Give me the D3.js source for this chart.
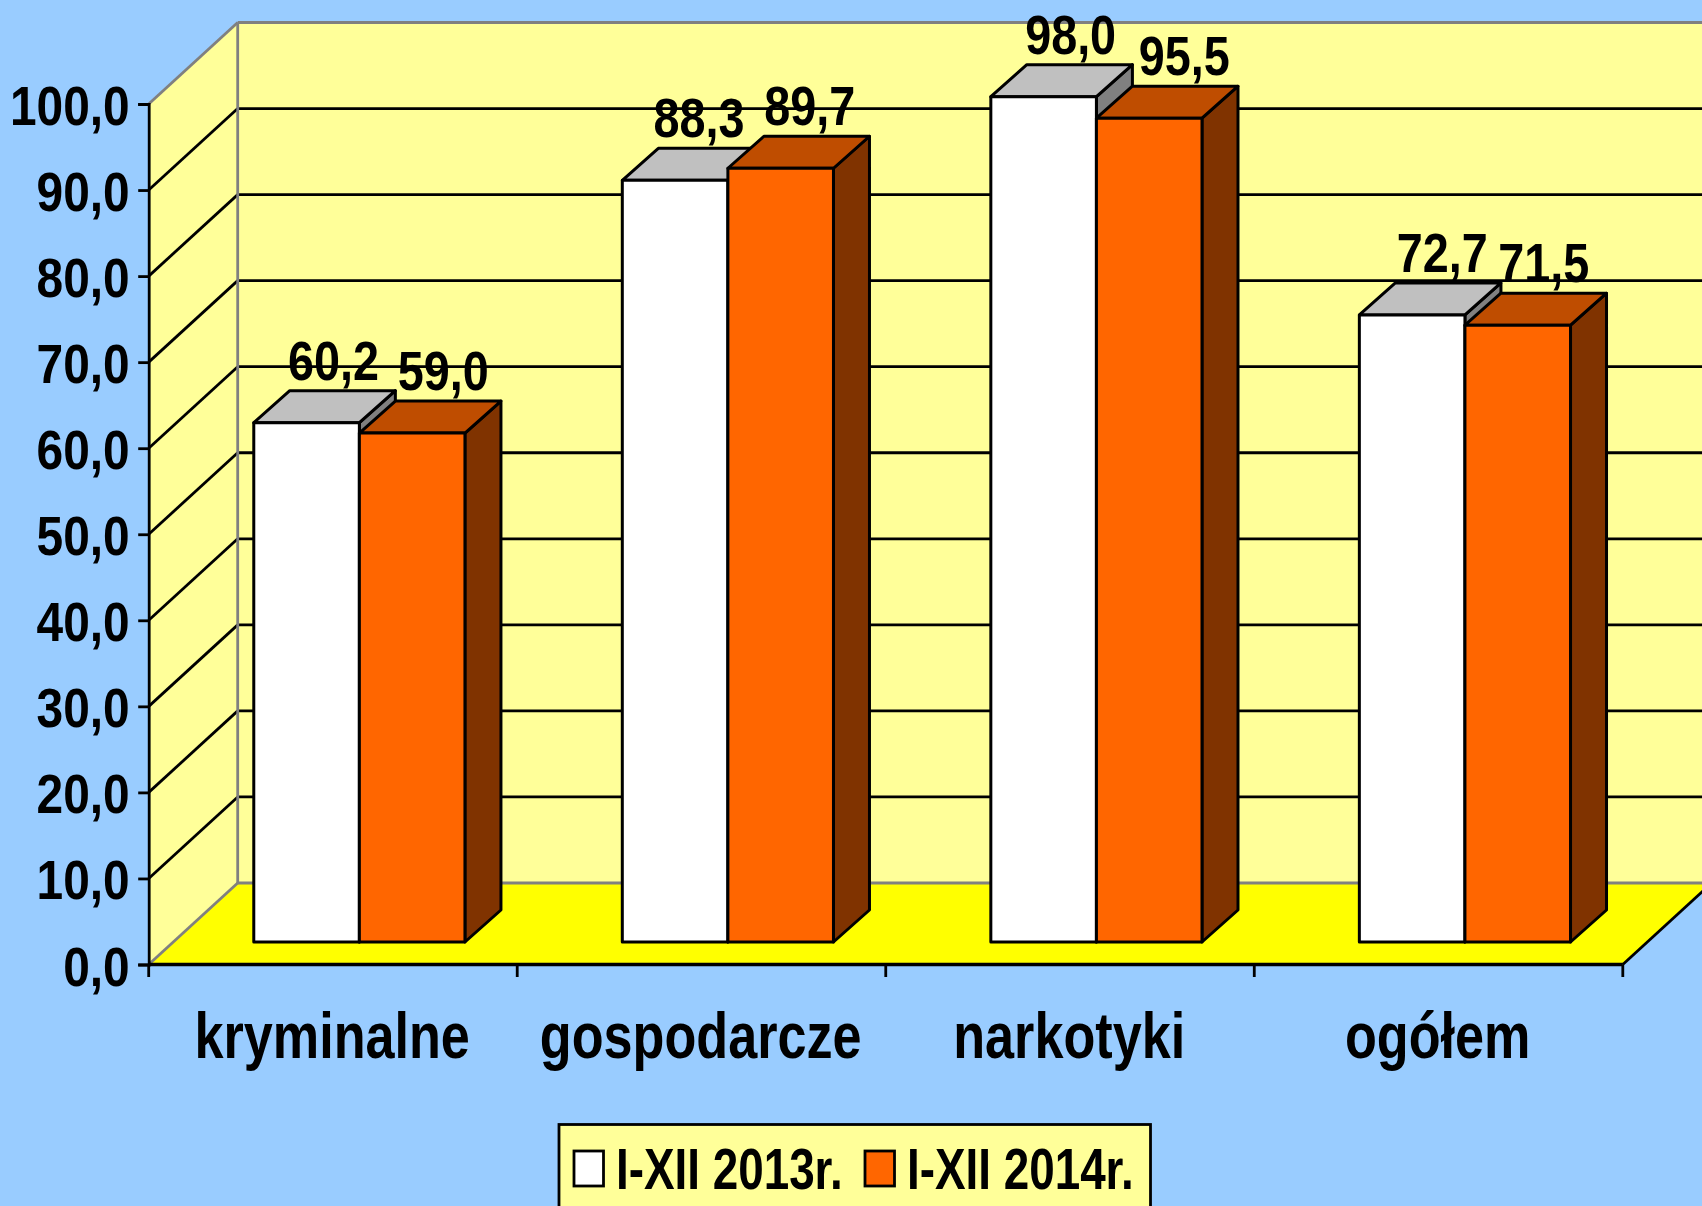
<!DOCTYPE html>
<html><head><meta charset="utf-8">
<script src="https://cdnjs.cloudflare.com/ajax/libs/d3/7.8.5/d3.min.js"></script>
<style>html,body{margin:0;padding:0;background:#99CCFF;overflow:hidden}svg{display:block}
text{font-family:"Liberation Sans",Arial,sans-serif;font-weight:700;fill:#000}</style>
</head><body><svg id="c" width="1702" height="1206"></svg>
<script>
const categories = ["kryminalne","gospodarcze","narkotyki","ogółem"];
const seriesNames = ["I-XII 2013r.","I-XII 2014r."];
const values2013 = [60.2,88.3,98.0,72.7];
const values2014 = [59.0,89.7,95.5,71.5];
const yTicks = [0,10,20,30,40,50,60,70,80,90,100];

const W=1702,H=1206;
const C={bg:"#99CCFF",wall:"#FFFF99",floor:"#FFFF00",edge:"#808080"};
const faces=[{front:"#FFFFFF",top:"#C0C0C0",side:"#808080"},{front:"#FF6600",top:"#BF4D00",side:"#803300"}];
const fmt=v=>d3.format(".1f")(v).replace(".",",");
const svg=d3.select("#c");
svg.append("rect").attr("width",W).attr("height",H).attr("fill",C.bg);

const x0=148.7,x1=1622.8,yB=964.5,yT=104;
const wallDx=89,wallDy=81.5;
const pad=0.427;
const y=d3.scaleLinear().domain([0,100]).range([yB,yT]);
const x=d3.scaleBand().domain(categories).range([x0,x1]).paddingInner(pad).paddingOuter(pad/2);
const xs=d3.scaleBand().domain([0,1]).range([0,x.bandwidth()]);
const barShiftX=26.4, barDx=36, barDy=32;
const yBar=d3.scaleLinear().domain([0,100]).range([942,79.4]);
const pts=a=>a.map(p=>p.join(",")).join(" ");

// walls and floor
const xb=x0+wallDx;
svg.append("polygon").attr("points",pts([[x0,y(100)],[xb,y(100)-wallDy],[xb,y(0)-wallDy],[x0,y(0)]])).attr("fill",C.wall);
svg.append("rect").attr("x",xb).attr("y",y(100)-wallDy).attr("width",W-xb).attr("height",y(0)-y(100)).attr("fill",C.wall);
svg.append("polygon").attr("points",pts([[x0,y(0)],[xb,y(0)-wallDy],[x1+wallDx,y(0)-wallDy],[x1,y(0)]])).attr("fill",C.floor);
// wall gridlines
const grid=yTicks.slice(1,-1).concat([90]).filter((d,i,a)=>a.indexOf(d)===i);
const g=svg.append("g");
g.selectAll("line.s").data(grid).join("line").attr("x1",x0).attr("y1",d=>y(d)).attr("x2",xb).attr("y2",d=>y(d)-wallDy).attr("stroke","#000").attr("stroke-width",2.8);
g.selectAll("line.b").data(grid).join("line").attr("class","b").attr("x1",xb).attr("y1",d=>y(d)-wallDy).attr("x2",W).attr("y2",d=>y(d)-wallDy).attr("stroke","#000").attr("stroke-width",2.8);
// grey wall edges
const edge=(a,b,c,d)=>svg.append("line").attr("x1",a).attr("y1",b).attr("x2",c).attr("y2",d).attr("stroke",C.edge).attr("stroke-width",2.8);
edge(x0,y(100),xb,y(100)-wallDy);
edge(xb,y(100)-wallDy,W,y(100)-wallDy);
edge(xb,y(100)-wallDy,xb,y(0)-wallDy);
edge(xb,y(0)-wallDy,W,y(0)-wallDy);
edge(x0,y(0),xb,y(0)-wallDy);

// bars
const barData=categories.flatMap((c,i)=>[values2013[i],values2014[i]].map((v,s)=>({c,v,s})));
const bars=svg.selectAll("g.bar").data(barData).join("g").attr("class","bar");
bars.each(function(d){
  const s=d3.select(this),f=faces[d.s];
  const l=x(d.c)+xs(d.s)+barShiftX,r=l+xs.bandwidth(),t=yBar(d.v),b=yBar(0);
  const st=e=>e.attr("stroke","#000").attr("stroke-width",3).attr("stroke-linejoin","round");
  st(s.append("polygon").attr("points",pts([[r,t],[r+barDx,t-barDy],[r+barDx,b-barDy],[r,b]])).attr("fill",f.side));
  st(s.append("polygon").attr("points",pts([[l,t],[l+barDx,t-barDy],[r+barDx,t-barDy],[r,t]])).attr("fill",f.top));
  st(s.append("rect").attr("x",l).attr("y",t).attr("width",r-l).attr("height",b-t).attr("fill",f.front));
});

// axes
const yAxis=d3.axisLeft(y).tickValues(yTicks).tickSize(10.5).tickFormat(fmt);
const ya=svg.append("g").attr("transform",`translate(${x0},0)`).call(yAxis);
ya.select(".domain").attr("stroke","#000").attr("stroke-width",2.8);
ya.selectAll(".tick line").attr("stroke","#000").attr("stroke-width",2.8);
ya.selectAll(".tick text").attr("x",null).attr("dy",null).attr("text-anchor","end")
  .attr("font-size",56).attr("transform",`translate(-19,20.5) scale(.855,1)`);

const xa=svg.append("g");
const xTicks=[x0,...categories.map(c=>x(c)+x.bandwidth()+x.step()*pad/2)];
xa.selectAll("line.t").data(xTicks).join("line").attr("x1",d=>d).attr("x2",d=>d).attr("y1",yB).attr("y2",yB+12.5).attr("stroke","#000").attr("stroke-width",2.8);
xa.append("line").attr("x1",x0).attr("x2",x1).attr("y1",yB).attr("y2",yB).attr("stroke","#000").attr("stroke-width",3.6);
xa.append("line").attr("x1",x1).attr("y1",yB).attr("x2",x1+wallDx).attr("y2",yB-wallDy).attr("stroke","#000").attr("stroke-width",2.8);
xa.selectAll("text").data(categories).join("text")
  .attr("text-anchor","middle").attr("font-size",64)
  .attr("transform",d=>`translate(${x(d)+x.bandwidth()/2-0.8},1058) scale(.815,1)`).text(d=>d);

// value labels
const labelDx=[27,31];
const labelNudge=[0,0,-3,-2,0,4,3,-5];
svg.selectAll("text.v").data(barData).join("text").attr("class","v")
  .attr("text-anchor","middle").attr("font-size",56)
  .attr("transform",(d,i)=>`translate(${x(d.c)+xs(d.s)+barShiftX+xs.bandwidth()/2+labelDx[d.s]+labelNudge[i]},${yBar(d.v)-43}) scale(.835,1)`)
  .text(d=>fmt(d.v));

// legend
const lg=svg.append("g");
lg.append("rect").attr("x",559).attr("y",1124.5).attr("width",591.5).attr("height",100).attr("fill",C.wall).attr("stroke","#000").attr("stroke-width",2.8);
const lx=[574,865];
seriesNames.forEach((n,i)=>{
  lg.append("rect").attr("x",lx[i]).attr("y",1151).attr("width",29.5).attr("height",35).attr("fill",faces[i].front).attr("stroke","#000").attr("stroke-width",2.8);
  lg.append("text").attr("font-size",58).attr("transform",`translate(${lx[i]+42},1189) scale(.79,1)`).text(n);
});
</script></body></html>
